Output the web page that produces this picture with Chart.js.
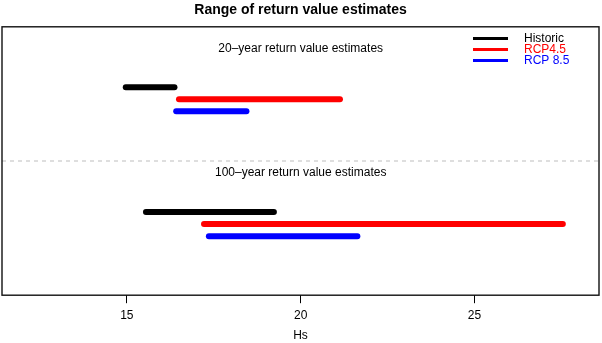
<!DOCTYPE html>
<html>
<head>
<meta charset="utf-8">
<script src="https://cdn.jsdelivr.net/npm/chart.js@4"></script>
<style>
  html, body { margin: 0; padding: 0; background: #fff; }
  canvas { display: block; }
</style>
</head>
<body>
<canvas id="chart" width="602" height="343"></canvas>
<script>
const seriesNames = ["Historic", "RCP4.5", "RCP 8.5"];
const seriesColors = ["#000000", "#ff0000", "#0000ff"];
const low20 = [14.97, 16.5, 16.42];
const high20 = [16.37, 21.13, 18.44];
const low100 = [15.55, 17.22, 17.36];
const high100 = [19.23, 27.54, 21.63];
const level20 = [7.75, 7.3, 6.85];
const level100 = [3.1, 2.65, 2.2];
const separatorLevel = 5;
const groupLabels = ["20\u2013year return value estimates", "100\u2013year return value estimates"];
const groupLabelLevels = [9.2, 4.55];
const xTicks = [15, 20, 25];
const xMin = 11.41;
const xMax = 28.58;

const font = "'Liberation Sans', Arial, Helvetica, sans-serif";

function segment(label, color, lo, hi, y) {
  return {
    type: "line",
    label,
    data: [{ x: lo, y }, { x: hi, y }],
    borderColor: color,
    borderWidth: 6,
    borderCapStyle: "round",
    pointRadius: 0,
    fill: false,
  };
}

const datasets = [];
seriesNames.forEach((name, i) => {
  datasets.push(segment(name, seriesColors[i], low20[i], high20[i], level20[i]));
});
seriesNames.forEach((name, i) => {
  datasets.push(segment(name, seriesColors[i], low100[i], high100[i], level100[i]));
});
datasets.push({
  type: "line",
  label: "separator",
  data: [{ x: xMin, y: separatorLevel }, { x: xMax, y: separatorLevel }],
  borderColor: "#bebebe",
  borderWidth: 1,
  borderDash: [4, 4],
  pointRadius: 0,
});

const decorations = {
  id: "decorations",
  beforeDraw(chart) {
    const ctx = chart.ctx;
    ctx.save();
    ctx.fillStyle = "#fff";
    ctx.fillRect(0, 0, chart.width, chart.height);
    ctx.restore();
  },
  afterDraw(chart) {
    const ctx = chart.ctx;
    const { left, right, top, bottom } = chart.chartArea;
    const x = chart.scales.x;
    const y = chart.scales.y;
    ctx.save();

    // box round the plot
    ctx.strokeStyle = "#111";
    ctx.lineWidth = 1.4;
    ctx.strokeRect(left, top, right - left, bottom - top);

    // group captions
    ctx.fillStyle = "#000";
    ctx.font = "12px " + font;
    ctx.textAlign = "center";
    ctx.textBaseline = "middle";
    groupLabels.forEach((t, i) => {
      ctx.fillText(t, x.getPixelForValue(20), y.getPixelForValue(groupLabelLevels[i]));
    });

    // legend, top right
    const lx = 473, tx = 524, ly = 38.5, step = 11;
    ctx.textAlign = "left";
    seriesNames.forEach((name, i) => {
      const yy = ly + i * step;
      ctx.strokeStyle = seriesColors[i];
      ctx.lineWidth = 3;
      ctx.beginPath();
      ctx.moveTo(lx, yy);
      ctx.lineTo(lx + 35, yy);
      ctx.stroke();
      ctx.fillStyle = seriesColors[i];
      ctx.fillText(name, tx, yy);
    });
    ctx.restore();
  },
};

new Chart(document.querySelector("#chart").getContext("2d"), {
  type: "scatter",
  data: { datasets },
  options: {
    responsive: false,
    animation: false,
    layout: { padding: { left: 2, right: 3, top: 0, bottom: 0 } },
    plugins: {
      legend: { display: false },
      tooltip: { enabled: false },
      title: {
        display: true,
        text: "Range of return value estimates",
        color: "#000",
        font: { family: font, size: 14, weight: "bold" },
        padding: { top: 2, bottom: 8 },
      },
    },
    scales: {
      x: {
        type: "linear",
        min: xMin,
        max: xMax,
        afterBuildTicks: (axis) => {
          axis.ticks = xTicks.map((v) => ({ value: v }));
        },
        grid: { drawOnChartArea: false, drawTicks: true, tickLength: 8, color: "#000" },
        border: { display: false },
        ticks: { color: "#000", font: { family: font, size: 12 }, padding: 5, maxRotation: 0 },
        title: {
          display: true,
          text: "Hs",
          color: "#000",
          font: { family: font, size: 12 },
          padding: { top: 1, bottom: 0 },
        },
      },
      y: {
        type: "linear",
        min: 0,
        max: 10,
        display: false,
      },
    },
  },
  plugins: [decorations],
});
</script>
</body>
</html>
